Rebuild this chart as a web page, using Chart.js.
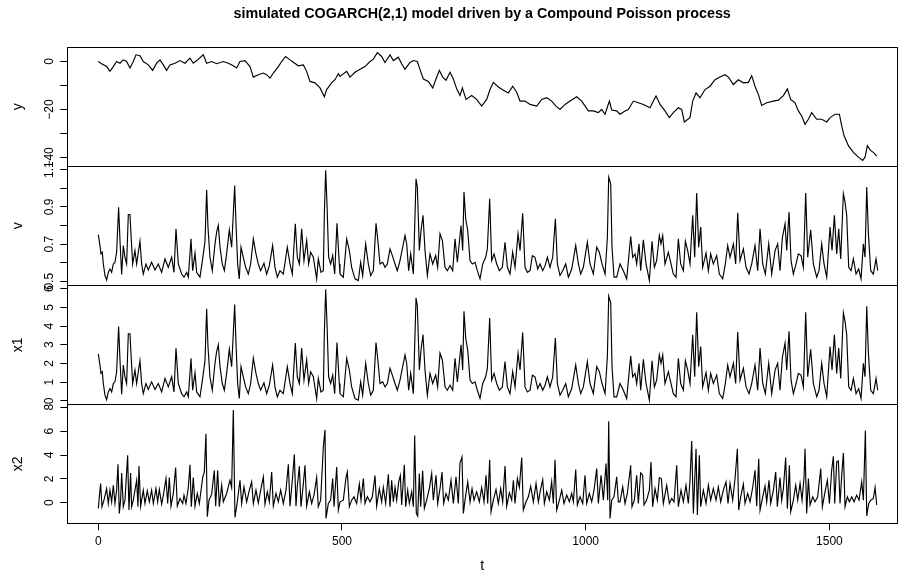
<!DOCTYPE html>
<html>
<head>
<meta charset="utf-8">
<script src="https://cdn.jsdelivr.net/npm/chart.js@4.4.1/dist/chart.umd.min.js"></script>
<style>
html, body { margin: 0; padding: 0; background: #fff; }
</style>
</head>
<body>
<canvas id="myChart" width="900" height="579"></canvas>
<script>
// time axis ticks
const xTicks = [0, 500, 1000, 1500];

// panel y: observed process
const tY = [
  0, 6.8, 17.1, 23.9, 30.8, 37.6, 44.5, 51.3, 58.1, 65, 71.8, 77.3, 85.5, 92.3, 102.6, 111.5, 119.7, 126.5, 133.4, 140.2,
  147, 157.3, 167.6, 177.8, 188.1, 194.9, 201.8, 215.5, 222.3, 232.6, 242.8, 256.5, 266.8, 277, 283.9, 290.7, 301, 311.2, 318.1, 328.3,
  338.6, 345.4, 352.3, 359.1, 369.4, 376.2, 384.4, 393.3, 400.1, 410.4, 420.7, 427.5, 434.3, 444.6, 454.9, 463.8, 468.5, 478.8, 485.6, 492.5,
  495.9, 509.6, 516.4, 526.7, 536.9, 547.2, 557.5, 564.3, 572.5, 581.4, 588.2, 598.5, 605.3, 615.6, 622.4, 629.3, 639.5, 646.4, 654.6, 660.1,
  666.9, 677.2, 686.1, 692.9, 699.7, 706.6, 713.4, 721.6, 728.5, 735.3, 742.1, 746.9, 754.5, 766.1, 776.3, 786.6, 796.9, 803.7, 810.5, 820.8,
  831.1, 841.3, 850.2, 858.4, 865.3, 875.5, 885.8, 899.5, 909.7, 920, 930.2, 939.1, 947.3, 957.6, 967.9, 981.5, 991.8, 1005.5, 1015.7, 1026,
  1032.8, 1039.7, 1048.6, 1053.4, 1063.6,
  1070.4, 1080.7, 1087.5, 1097.8, 1108, 1118.3, 1132, 1138.8, 1144.3, 1152.5, 1162.7, 1171.6, 1179.8, 1190.1, 1196.9, 1202.4, 1214, 1219.5, 1226.4, 1234.6,
  1244.8, 1255.1, 1265.3, 1275.6, 1285.9, 1292.7, 1303, 1313.2, 1323.5, 1333.7, 1340.6, 1347.4, 1354.3, 1361.1, 1371.4, 1385.1, 1395.3, 1405.6, 1413.8, 1420.6,
  1429.5, 1436.3, 1443.2, 1450, 1456.9, 1463.7, 1474, 1484.2, 1494.5, 1501.3, 1511.6, 1520.5, 1525.3, 1530.1, 1539, 1549.2, 1559.5, 1568.4, 1573.1, 1577.9,
  1584.8, 1590.2, 1597.1
];
const yVals = [
  0, -0.9, -2.1, -4.1, -2.1, 0, -0.7, 0.7, 0, -2.7, 0, 2.8, 2.4, 0, -1.4, -3.7, -0.7, 0.7, -1.4, -3.7,
  -1.4, -0.7, 0.4, -0.7, 1.4, -0.7, 0.4, 2.8, -0.7, 0, -0.9, 0, -0.7, -1.8, -2.7, 0, 0.4, -2.1, -6.5, -5.5,
  -4.8, -5.5, -6.9, -4.8, -2.1, 0, 2.1, 0.7, -0.3, -1.8, -1.4, -4.1, -8.3, -8.9, -11, -14.7, -11.7, -8.9, -7.6, -5.1,
  -6.2, -4.1, -6.5, -4.5, -3.2, -2.1, 0, 1, 3.7, 2.1, -0.4, 2.8, 0.4, 1.8, -0.9, -3.2, -0.4, 0.4, 0, -3.4,
  -7.3, -8.3, -11, -7.3, -3.7, -6.5, -7.8, -4.5, -7.3, -11.4, -14.2, -11, -15.8, -14.2, -15.8, -18.6, -15.8, -11.7, -8.7, -10.6,
  -12, -13.1, -10.3, -12.8, -16.5, -16.5, -17.9, -18.6, -15.8, -15.1, -16.5, -18.6, -20, -17.9, -16.5, -14.7, -16.5, -20.6, -20.6, -21.3,
  -20, -22, -16.5, -20.2, -20.6,
  -22, -20.6, -20, -16.5, -17.2, -17.9, -19.3, -16.5, -14.4, -17.9, -20.6, -23.4, -21.3, -19.3, -20, -25.2, -23.4, -16.5, -13.1, -15.1,
  -11.7, -10.3, -7.6, -6.5, -5.5, -6.5, -9.6, -7.6, -8.9, -8.7, -5.9, -10.3, -13.8, -18.3, -17.2, -16.5, -16.1, -14.2, -11.4, -15.8,
  -17.2, -20.6, -22.7, -26.2, -24.1, -21.3, -24.1, -24.1, -25.2, -23.4, -22, -22, -26.8, -31, -35.1, -37.9, -39.9, -41.3, -39.9, -35.1,
  -37.2, -37.9, -39.5
];

// panels v and x1: state process
const tState = [
  0, 3.4, 5.5, 8.2, 10.3, 13.7, 17.1, 20.5, 23.9, 27.4, 30.8, 34.2, 37.6, 41.7, 44.5, 47.9, 51.3, 54.7, 58.1, 61.6,
  65, 67, 70.5, 75.2, 78.7, 82.1, 85.5, 88.9, 92.3, 97.8, 102.6, 109.4, 116.3, 123.1, 130, 136.8, 143.6, 150.5, 155.3, 159.4,
  164.2, 171, 175.8, 181.3, 184.7, 190.2, 193.6, 198.4, 201.8, 208.6, 214.1, 218.9, 222.3, 225, 229.1, 233.9, 239.4, 242.8, 246.2, 249.7,
  254.4, 258.6, 263.3, 268.8, 273.6, 277, 279.8, 282.5, 285.9, 289.3, 292.8, 297.5, 302.3, 307.8, 312.6, 318.1, 323.5, 328.3, 333.1, 339.9,
  345.4, 350.9, 357.7, 362.5, 367.3, 372.8, 379.6, 387.8, 393.3, 398.1, 404.2, 408.3, 412.5, 417.2, 422, 427.5, 431.6, 435.7, 441.2, 448,
  451.4, 456.9, 461.7, 463.8, 466.5, 469.2, 472.6, 476.7, 480.9, 485, 489.7, 494.5,
  495.9, 502.7, 509.6, 515.1, 519.8, 526.7, 533.5, 538.3, 542.4, 548.6, 554, 558.8, 564.3, 569.8, 573.2, 578, 583.5, 588.2, 593, 598.5,
  603.3, 608.8, 613.5, 619, 623.8, 629.3, 632.7, 636.8, 640.9, 646.4, 651.9, 654.6, 658.7, 662.1, 666.2, 670.3, 675.1, 680.6, 686.1, 692.2,
  696.3, 701.1, 705.9, 711.4, 716.1, 721.6, 727.1, 731.9, 736.7, 744.2, 747.6, 750.3, 753.8, 757.9, 762.7, 767.4, 772.9, 777.7, 783.2, 788.7,
  794.8, 798.2, 803, 807.1, 811.9, 817.4, 822.9, 829, 834.5, 839.3, 844.7, 850.2, 855, 861.2, 865.3, 870.7, 875.5, 880.3, 885.8, 890.6,
  896, 901.5, 906.3, 911.8, 916.6, 921.4, 926.8, 932.3, 937.8, 941.9, 947.3, 952.8, 959, 964.4, 971.3, 979.5, 985, 989.7, 995.2, 1003.4,
  1008.9, 1015.7, 1022.6, 1028, 1033.5, 1039.7, 1044.5, 1047.2, 1051.3, 1054, 1058.1, 1063.6,
  1070.4, 1077.2, 1084.1, 1092.3, 1096.4, 1101.2, 1104.6, 1109.4, 1112.8, 1118.3, 1123.8, 1130.6, 1136.1, 1140.9, 1145.6, 1151.1, 1154.5, 1158, 1162.7, 1169.6,
  1175.1, 1179.8, 1185.3, 1190.1, 1194.9, 1200.4, 1204.5, 1209.3, 1214, 1219.5, 1223.6, 1227.7, 1231.8, 1236, 1240, 1246.9, 1251.7, 1256.4, 1261.9, 1268.8,
  1274.2, 1281.1, 1286.5, 1291.3, 1296.1, 1303, 1307.7, 1311.9, 1316.6, 1323.5, 1329, 1335.1, 1340.6, 1347.4, 1352.9, 1357.7, 1363.2, 1368.6, 1375.5, 1381.6,
  1388.5, 1393.9, 1398.7, 1403.5, 1409, 1412.4, 1417.2, 1421.3, 1426.1, 1431.6, 1436.3, 1441.8, 1446.6, 1451.4, 1455.5, 1461.6, 1467.1, 1474, 1478.7, 1484.2,
  1489, 1494.5, 1501.3, 1505.4, 1510.2, 1515, 1519.1, 1523.2, 1528.7, 1532.1, 1535.5, 1539.6, 1544.4, 1549.2, 1554.7, 1560.1, 1564.9, 1569.7, 1573.1, 1576.6,
  1580, 1584.8, 1590.2, 1595.7, 1599.1
];
const v = [
  0.751, 0.692, 0.647, 0.656, 0.593, 0.531, 0.507, 0.548, 0.566, 0.548, 0.593, 0.602, 0.656, 0.898, 0.719, 0.536, 0.692, 0.629, 0.593, 0.859,
  0.859, 0.755, 0.593, 0.665, 0.593, 0.656, 0.715, 0.593, 0.539, 0.593, 0.561, 0.602, 0.561, 0.593, 0.548, 0.62, 0.575, 0.629, 0.548, 0.782,
  0.593, 0.539, 0.522, 0.548, 0.522, 0.728, 0.557, 0.651, 0.548, 0.522, 0.62, 0.715, 0.992, 0.791, 0.629, 0.557, 0.701, 0.764, 0.8, 0.683,
  0.593, 0.557, 0.647, 0.776, 0.683, 0.863, 1.015, 0.809, 0.593, 0.513, 0.683, 0.629, 0.575, 0.539, 0.593, 0.728, 0.647, 0.593, 0.557, 0.597,
  0.539, 0.584, 0.692, 0.575, 0.522, 0.557, 0.539, 0.683, 0.593, 0.539, 0.809, 0.629, 0.593, 0.782, 0.611, 0.719, 0.593, 0.656, 0.629, 0.513,
  0.62, 0.548, 0.557, 0.863, 1.096, 0.916, 0.629, 0.593, 0.638, 0.539, 0.812, 0.593,
  0.539, 0.522, 0.728, 0.665, 0.575, 0.513, 0.504, 0.602, 0.531, 0.701, 0.593, 0.531, 0.557, 0.812, 0.728, 0.593, 0.602, 0.575, 0.593, 0.674,
  0.638, 0.593, 0.557, 0.611, 0.674, 0.746, 0.701, 0.557, 0.647, 0.539, 1.051, 1.006, 0.665, 0.773, 0.854, 0.665, 0.531, 0.647, 0.593, 0.638,
  0.575, 0.755, 0.719, 0.575, 0.557, 0.584, 0.557, 0.728, 0.602, 0.8, 0.665, 0.979, 0.836, 0.773, 0.611, 0.593, 0.602, 0.557, 0.513, 0.593,
  0.629, 0.674, 0.943, 0.611, 0.647, 0.593, 0.557, 0.575, 0.71, 0.575, 0.539, 0.656, 0.575, 0.755, 0.665, 0.866, 0.575, 0.548, 0.557, 0.638,
  0.629, 0.566, 0.593, 0.557, 0.584, 0.629, 0.575, 0.629, 0.836, 0.593, 0.531, 0.557, 0.593, 0.522, 0.566, 0.692, 0.593, 0.539, 0.575, 0.71,
  0.593, 0.539, 0.683, 0.656, 0.593, 0.539, 0.737, 1.06, 1.024, 0.683, 0.522, 0.522,
  0.593, 0.557, 0.513, 0.741, 0.629, 0.647, 0.593, 0.701, 0.557, 0.723, 0.593, 0.504, 0.715, 0.575, 0.611, 0.746, 0.701, 0.746, 0.593, 0.656,
  0.593, 0.539, 0.522, 0.728, 0.593, 0.557, 0.715, 0.665, 0.593, 0.854, 0.629, 0.974, 0.683, 0.791, 0.575, 0.651, 0.557, 0.647, 0.593, 0.638,
  0.539, 0.513, 0.593, 0.692, 0.629, 0.701, 0.593, 0.868, 0.611, 0.674, 0.575, 0.539, 0.593, 0.692, 0.557, 0.782, 0.593, 0.539, 0.701, 0.539,
  0.665, 0.701, 0.557, 0.733, 0.809, 0.665, 0.872, 0.611, 0.539, 0.593, 0.647, 0.638, 0.575, 0.974, 0.629, 0.776, 0.593, 0.522, 0.557, 0.701,
  0.593, 0.522, 0.791, 0.665, 0.854, 0.647, 0.782, 0.62, 0.97, 0.925, 0.854, 0.575, 0.557, 0.62, 0.539, 0.566, 0.513, 0.701, 0.629, 1.006,
  0.755, 0.557, 0.539, 0.62, 0.557
];
const x1 = [
  2.51, 1.92, 1.47, 1.56, 0.93, 0.31, 0.07, 0.48, 0.66, 0.48, 0.93, 1.02, 1.56, 3.98, 2.19, 0.36, 1.92, 1.29, 0.93, 3.59,
  3.59, 2.55, 0.93, 1.65, 0.93, 1.56, 2.15, 0.93, 0.39, 0.93, 0.61, 1.02, 0.61, 0.93, 0.48, 1.2, 0.75, 1.29, 0.48, 2.82,
  0.93, 0.39, 0.22, 0.48, 0.22, 2.28, 0.57, 1.51, 0.48, 0.22, 1.2, 2.15, 4.92, 2.91, 1.29, 0.57, 2.01, 2.64, 3.0, 1.83,
  0.93, 0.57, 1.47, 2.76, 1.83, 3.63, 5.15, 3.09, 0.93, 0.13, 1.83, 1.29, 0.75, 0.39, 0.93, 2.28, 1.47, 0.93, 0.57, 0.97,
  0.39, 0.84, 1.92, 0.75, 0.22, 0.57, 0.39, 1.83, 0.93, 0.39, 3.09, 1.29, 0.93, 2.82, 1.11, 2.19, 0.93, 1.56, 1.29, 0.13,
  1.2, 0.48, 0.57, 3.63, 5.96, 4.16, 1.29, 0.93, 1.38, 0.39, 3.12, 0.93,
  0.39, 0.22, 2.28, 1.65, 0.75, 0.13, 0.04, 1.02, 0.31, 2.01, 0.93, 0.31, 0.57, 3.12, 2.28, 0.93, 1.02, 0.75, 0.93, 1.74,
  1.38, 0.93, 0.57, 1.11, 1.74, 2.46, 2.01, 0.57, 1.47, 0.39, 5.51, 5.06, 1.65, 2.73, 3.54, 1.65, 0.31, 1.47, 0.93, 1.38,
  0.75, 2.55, 2.19, 0.75, 0.57, 0.84, 0.57, 2.28, 1.02, 3.0, 1.65, 4.79, 3.36, 2.73, 1.11, 0.93, 1.02, 0.57, 0.13, 0.93,
  1.29, 1.74, 4.43, 1.11, 1.47, 0.93, 0.57, 0.75, 2.1, 0.75, 0.39, 1.56, 0.75, 2.55, 1.65, 3.66, 0.75, 0.48, 0.57, 1.38,
  1.29, 0.66, 0.93, 0.57, 0.84, 1.29, 0.75, 1.29, 3.36, 0.93, 0.31, 0.57, 0.93, 0.22, 0.66, 1.92, 0.93, 0.39, 0.75, 2.1,
  0.93, 0.39, 1.83, 1.56, 0.93, 0.39, 2.37, 5.6, 5.24, 1.83, 0.22, 0.22,
  0.93, 0.57, 0.13, 2.41, 1.29, 1.47, 0.93, 2.01, 0.57, 2.23, 0.93, 0.04, 2.15, 0.75, 1.11, 2.46, 2.01, 2.46, 0.93, 1.56,
  0.93, 0.39, 0.22, 2.28, 0.93, 0.57, 2.15, 1.65, 0.93, 3.54, 1.29, 4.74, 1.83, 2.91, 0.75, 1.51, 0.57, 1.47, 0.93, 1.38,
  0.39, 0.13, 0.93, 1.92, 1.29, 2.01, 0.93, 3.68, 1.11, 1.74, 0.75, 0.39, 0.93, 1.92, 0.57, 2.82, 0.93, 0.39, 2.01, 0.39,
  1.65, 2.01, 0.57, 2.33, 3.09, 1.65, 3.72, 1.11, 0.39, 0.93, 1.47, 1.38, 0.75, 4.74, 1.29, 2.76, 0.93, 0.22, 0.57, 2.01,
  0.93, 0.22, 2.91, 1.65, 3.54, 1.47, 2.82, 1.2, 4.7, 4.25, 3.54, 0.75, 0.57, 1.2, 0.39, 0.66, 0.13, 2.01, 1.29, 5.06,
  2.55, 0.57, 0.39, 1.2, 0.57
];

// panel x2
const tX2 = [
  0, 2.1, 4.8, 7.5, 11.6, 17.1, 20.5, 23.9, 27.4, 30.8, 34.2, 37.6, 40.4, 43.1, 45.8, 47.9, 51.3, 54.7, 60.2, 62.9,
  66.3, 68.4, 71.8, 78.7, 81.4, 83.4, 86.9, 92.3, 95.8, 100.5, 104.7, 109.4, 112.9, 118.3, 121.8, 125.2, 130, 133.4, 138.9, 142.3,
  145.7, 149.1, 153.9, 158.7, 162.1, 167.6, 173.1, 175.8, 179.9, 184.7, 188.1, 190.8, 194.9, 198.4, 203.1, 207.3, 214.1, 217.5, 220.9, 223.7,
  227.1, 232.6, 238, 240.8, 244.9, 248.3, 253.1, 256.5, 263.3, 270.2, 273.6, 277, 280.4, 285.2, 290.7, 294.1, 298.9, 304.4, 309.9, 314.6,
  318.1, 323.5, 328.3, 333.8, 338.6, 342, 346.8, 350.9, 355.7, 359.1, 364.6, 369.4, 374.1, 379.6, 385.1, 389.9, 393.3, 398.1, 402.2, 405.6,
  408.3, 412.5, 415.9, 420.7, 424.1, 427.5, 433, 437.8, 442.5, 448, 451.4, 456.2, 461.7, 465.1, 467.2, 472, 476.7, 480.9, 483.6, 489.1,
  492.5,
  495.9, 502.7, 508.2, 510.9, 515.1, 519.8, 524.6, 530.1, 535.6, 539, 543.8, 547.2, 552, 557.5, 562.2, 567.7, 571.1, 576.6, 581.4, 584.8,
  589.6, 595.1, 598.5, 601.9, 605.3, 608.8, 612.2, 616.3, 619.7, 622.4, 627.9, 630.6, 634.8, 638.2, 643, 646.4, 649.1, 652.5, 655.3, 658.7,
  661.4, 665.5, 669, 673.7, 679.2, 684, 687.4, 692.9, 696.3, 701.1, 705.2, 708.6, 713.4, 718.2, 723.7, 728.5, 733.9, 738.7, 742.1, 746.2,
  749, 752.4, 757.9, 762.7, 766.8, 770.9, 776.3, 781.8, 786.6, 791.4, 795.5, 798.9, 803, 805.8, 810.5, 816, 820.8, 825.6, 829.7, 834.5,
  837.9, 843.4, 848.2, 851.6, 855, 859.8, 863.9, 868.7, 872.1, 877.6, 882.4, 887.1, 892.6, 898.1, 902.9, 907.7, 911.8, 915.2, 920, 925.5,
  930.2, 933.7, 937.1, 940.5, 946, 950.8, 955.5, 961, 966.5, 971.3, 974.7, 979.5, 982.9, 988.4, 993.9, 998.6, 1002.1, 1007.5, 1012.3, 1017.1,
  1022.6, 1026, 1031.5, 1036.3, 1041.7, 1045.2, 1047.2, 1049.9, 1053.4, 1058.1, 1063.6, 1067,
  1070.4, 1075.9, 1080.7, 1085.4, 1092.3, 1095, 1099.8, 1104.6, 1108, 1112.8, 1116.9, 1119.6, 1125.1, 1130.6, 1134, 1137.4, 1142.2, 1147, 1151.1, 1155.2,
  1159.3, 1166.2, 1171.6, 1176.4, 1181.2, 1186.7, 1190.1, 1195.6, 1200.4, 1205.8, 1210.6, 1214, 1217.5, 1220.9, 1226.4, 1229.1, 1233.2, 1235.9, 1241.4, 1246.9,
  1251.7, 1256.4, 1261.9, 1267.4, 1272.2, 1277, 1282.4, 1287.9, 1292, 1296.1, 1301.6, 1306.4, 1311.2, 1313.9, 1318, 1323.5, 1326.9, 1332.4, 1337.2, 1342.6,
  1347.4, 1350.8, 1355, 1357.7, 1363.2, 1367.9, 1371.4, 1376.1, 1379.6, 1385.1, 1389.8, 1393.2, 1398.7, 1402.1, 1405.6, 1410.3, 1413.8, 1417.9, 1420.6, 1426.1,
  1430.9, 1435, 1439.8, 1443.9, 1448, 1450, 1453.4, 1456.9, 1460.3, 1465.8, 1470.5, 1476, 1482.2, 1485.6, 1491, 1495.8, 1500, 1504.7, 1508.2, 1510.9,
  1515, 1518.4, 1521.8, 1525.3, 1528.7, 1532.1, 1536.9, 1541, 1545.8, 1550.6, 1556, 1560.8, 1566.3, 1569.7, 1573.8, 1576.6, 1580.7, 1584.8, 1590.2, 1593.7,
  1597.1
];
const x2 = [
  -0.47, 0.5, 1.61, -0.33, 0.22, 1.19, -0.06, 1.06, 0.08, 1.47, -0.06, 1.06, 3.22, -0.89, 0.22, 2.5, -0.33, 0.22, 3.97, -0.61,
  2.5, -0.33, 0.22, 1.89, -0.33, 3.08, -0.28, 1.06, -0.06, 1.0, 0.08, 1.06, -0.06, 1.19, 0.08, 1.11, -0.11, 0.64, 2.03, -0.06,
  2.11, -0.28, 0.78, 2.94, -0.28, 0.36, -0.06, 0.64, -0.06, 1.28, 3.19, -0.33, 2.11, -0.28, 0.78, -0.06, 2.11, 2.58, 5.78, -1.17,
  0.22, 0.72, 2.72, -0.28, 2.72, -0.33, 1.47, 0.08, 0.78, 1.89, 1.28, 7.78, -1.22, 0.08, 1.89, -0.06, 1.33, 0.08, 1.06, 1.75,
  -0.06, 1.06, 0, 1.19, 2.17, -0.11, 0.92, 0.08, 2.58, -0.28, 0.78, 0.08, 1.06, -0.06, 1.06, 3.22, -0.28, 1.89, 4.06, -0.28,
  1.39, 3.06, -0.33, 1.61, 3.14, -0.28, 0.92, -0.06, 0.64, 2.11, -0.33, 0.22, 4.67, 6.11, -1.31, -0.06, 0.22, 2.03, -0.33, 3.0,
  -0.61,
  0.08, 0.22, 2.11, 2.58, -0.33, 0.22, 0.5, -0.06, 1.56, 0.22, 2.03, -0.06, 0.5, 0.08, 0.5, 2.28, -0.28, 1.19, 0.08, 1.28,
  -0.06, 2.39, -0.33, 1.89, 0.08, 1.28, 0.22, 1.75, 2.28, -0.19, 3.19, -0.33, 1.06, -0.06, 0.92, -0.33, 5.64, -0.89, -1.11, 2.44,
  -0.33, 2.67, -0.47, 0.22, 1.19, 2.44, 0.22, 2.31, -0.06, 1.19, 2.58, -0.06, 0.78, 0.22, 1.89, -0.06, 2.17, -0.06, 3.33, 3.83,
  -0.89, 0.22, 1.75, 0.08, 1.19, 0.22, 0.92, 0.08, 1.28, 0.08, 2.31, -0.06, 3.61, -0.75, 0.22, 1.11, -0.06, 1.19, 0.08, 3.08,
  -0.28, 0.83, 0.22, 1.89, -0.06, 2.03, 1.28, 3.78, -0.61, 0.08, 0.5, 1.39, 0.08, 1.61, 0.08, 1.19, 1.94, -0.06, 0.92, 0.22,
  1.75, -0.06, 3.61, -0.61, 0.22, 1.06, -0.06, 0.64, 0.08, 0.78, 0.08, 2.78, -0.19, 0.5, -0.06, 2.31, -0.06, 0.78, 0.08, 1.06,
  2.86, -0.06, 2.31, 0.22, 3.28, 0.22, 6.83, -1.31, 0.22, 0.5, 2.17, 0.08,
  0.08, 1.33, -0.06, 0.78, 3.14, -0.33, 0.22, 2.31, -0.06, 2.5, 2.31, -0.19, 0.22, 1.06, 3.42, -0.33, 1.19, 0.22, 2.11, 2.03,
  -0.06, 1.47, -0.06, 0.36, 0.08, 3.14, -0.33, 1.06, 0.08, 1.47, -0.06, 1.89, 5.17, -0.89, 4.53, -1.03, 3.97, -0.33, 1.06, -0.06,
  1.47, 0.22, 1.19, 0.22, 1.33, 0.08, 1.06, 1.75, -0.06, 1.61, 0.22, 2.03, 4.53, -0.61, 0.5, 1.56, -0.06, 0.78, 0.08, 1.28,
  2.72, -0.28, 3.69, -0.61, 0.5, 1.39, 0.08, 1.89, -0.06, 1.06, 2.58, -0.33, 2.11, 0.22, 1.19, 3.78, -0.47, 3.14, -0.75, 0.22,
  1.47, 0.22, 1.61, 0.22, 2.11, 4.53, -0.89, 2.03, -0.19, 0.5, 0.08, 0.5, 2.86, -0.33, 0.92, 1.89, -0.06, 2.72, 3.89, -0.06,
  3.42, 3.5, -0.06, 2.31, 4.17, -0.33, 0.5, 0.08, 0.5, 0.08, 0.64, 0.22, 1.75, 0.22, 6.06, -1.11, -0.06, 0.22, 0.36, 1.28,
  -0.19
];

// y axis ticks per panel and which of them carry a label
const yTicks = [-40, -30, -20, -10, 0];
const yShown = [-40, -20, 0];
const vTicks = [0.5, 0.6, 0.7, 0.8, 0.9, 1.0, 1.1];
const vShown = [0.5, 0.7, 0.9, 1.1];
const x1Ticks = [0, 1, 2, 3, 4, 5, 6];
const x2Ticks = [0, 2, 4, 6, 8];

Chart.defaults.font.family = '"Liberation Sans", Arial, Helvetica, sans-serif';
Chart.defaults.color = '#000';

function pts(ts, vals) {
    return ts.map((t, i) => ({ x: t, y: vals[i] }));
}

function fmt(val) {
    return String(val).replace('-', '\u2212');
}

function panelScale(min, max, ticks, shown, pad, title) {
    return {
        type: 'linear',
        position: 'left',
        stack: 'panels',
        stackWeight: 1,
        min: min,
        max: max,
        afterBuildTicks: s => { s.ticks = ticks.map(value => ({ value })); },
        afterFit: s => { s.width = 57.3; },
        grid: { drawOnChartArea: false, drawTicks: true, tickLength: 7, color: '#000', lineWidth: 1 },
        border: { display: false },
        ticks: {
            autoSkip: false,
            minRotation: 90,
            maxRotation: 90,
            crossAlign: 'center',
            padding: pad,
            font: { size: 12 },
            callback: val => shown.includes(val) ? fmt(val) : ''
        },
        title: { display: true, text: title, font: { size: 14 }, padding: 0 }
    };
}

function line(data, axis) {
    return {
        data: data,
        yAxisID: axis,
        borderColor: '#000',
        borderWidth: 1.15,
        pointRadius: 0,
        tension: 0,
        fill: false
    };
}

// outline of each panel
const panelBox = {
    id: 'panelBox',
    afterDraw(chart) {
        const { ctx, chartArea } = chart;
        ctx.save();
        ctx.strokeStyle = '#000';
        ctx.lineWidth = 1;
        ['yY', 'yV', 'yX1', 'yX2'].forEach(id => {
            const s = chart.scales[id];
            ctx.strokeRect(Math.round(chartArea.left) + 0.5, Math.round(s.top) + 0.5,
                Math.round(chartArea.right - chartArea.left), Math.round(s.bottom - s.top));
        });
        ctx.restore();
    }
};

const ctx = document.getElementById('myChart').getContext('2d');
const myChart = new Chart(ctx, {
    type: 'line',
    data: {
        datasets: [
            line(pts(tY, yVals), 'yY'),
            line(pts(tState, v), 'yV'),
            line(pts(tState, x1), 'yX1'),
            line(pts(tX2, x2), 'yX2')
        ]
    },
    options: {
        responsive: false,
        animation: false,
        events: [],
        layout: { padding: { left: 10, right: 3, top: 0, bottom: 4 } },
        plugins: {
            legend: { display: false },
            tooltip: { enabled: false },
            title: {
                display: true,
                fullSize: false,
                text: 'simulated COGARCH(2,1) model driven by a Compound Poisson process',
                font: { size: 14.3, weight: 'bold' },
                padding: { top: 5.4, bottom: 24.7 }
            }
        },
        scales: {
            x: {
                type: 'linear',
                position: 'bottom',
                min: -63.6,
                max: 1638.7,
                afterBuildTicks: s => { s.ticks = xTicks.map(value => ({ value })); },
                afterFit: s => { s.height = 51.7; },
                grid: { drawOnChartArea: false, tickLength: 7, color: '#000' },
                border: { display: false },
                ticks: { autoSkip: false, maxRotation: 0, padding: 4, font: { size: 12 }, callback: val => String(val) },
                title: { display: true, text: 't', font: { size: 14 }, padding: 0 }
            },
            yX2: panelScale(-1.72, 8.25, x2Ticks, x2Ticks, 7, 'x2'),
            yX1: panelScale(-0.18, 6.18, x1Ticks, x1Ticks, 7, 'x1'),
            yV: panelScale(0.4785, 1.118, vTicks, vShown, 2, 'v'),
            yY: panelScale(-43.7, 5.95, yTicks, yShown, 0.1, 'y')
        }
    },
    plugins: [panelBox]
});
</script>
</body>
</html>
